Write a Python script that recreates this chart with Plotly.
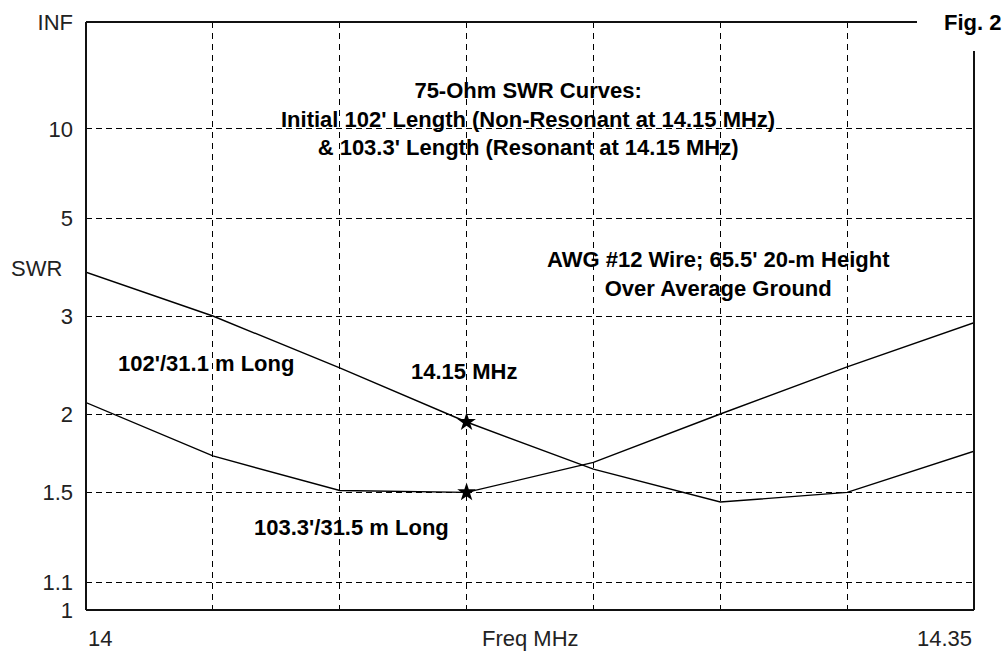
import plotly.graph_objects as go

# ---- data ----
freq_mhz = [14.00, 14.05, 14.10, 14.15, 14.20, 14.25, 14.30, 14.35]
swr_102ft = [3.70, 3.00, 2.40, 1.94, 1.63, 1.45, 1.50, 1.74]
swr_103_3ft = [2.09, 1.71, 1.51, 1.50, 1.67, 2.00, 2.41, 2.91]
marker_freq = 14.15

grid_swr = [1.1, 1.5, 2, 3, 5, 10]
grid_swr_labels = ["1.1", "1.5", "2", "3", "5", "10"]
end_swr_labels = ["1", "INF"]
grid_freq = [14.05, 14.10, 14.15, 14.20, 14.25, 14.30]


def gamma(s):
    # reflection-coefficient scale used by the SWR axis
    return (s - 1.0) / (s + 1.0)


FONT = "Liberation Sans, Arial, sans-serif"
BLACK = "#000000"

fig = go.Figure()

for ys in (swr_102ft, swr_103_3ft):
    fig.add_trace(go.Scatter(
        x=freq_mhz, y=[gamma(v) for v in ys], mode="lines",
        line=dict(color=BLACK, width=1.4), showlegend=False, hoverinfo="skip"))

mi = freq_mhz.index(marker_freq)
fig.add_trace(go.Scatter(
    x=[marker_freq, marker_freq],
    y=[gamma(swr_102ft[mi]), gamma(swr_103_3ft[mi])],
    mode="markers", marker=dict(symbol="star", size=14, color=BLACK),
    showlegend=False, hoverinfo="skip", cliponaxis=False))

# overlay axis only for the end labels "1" and "INF"
fig.add_trace(go.Scatter(x=[None], y=[None], yaxis="y2", showlegend=False,
                         hoverinfo="skip"))

fig.update_layout(
    width=1008, height=651,
    margin=dict(l=86, r=34, t=22, b=41),
    paper_bgcolor="white", plot_bgcolor="white",
    font=dict(family=FONT, size=22, color="#222222"),
    xaxis=dict(range=[14.0, 14.35], tickvals=grid_freq, showticklabels=False,
               showgrid=True, gridcolor=BLACK, gridwidth=1, griddash="6px,5px",
               ticks="inside", ticklen=4, tickcolor=BLACK, automargin=False,
               showline=False, zeroline=False, fixedrange=True),
    yaxis=dict(range=[0, 1], tickvals=[gamma(v) for v in grid_swr],
               ticktext=grid_swr_labels, showgrid=True, gridcolor=BLACK,
               gridwidth=1, griddash="6px,4px", ticks="", automargin=False,
               ticklabelstandoff=12, showline=False, zeroline=False,
               fixedrange=True),
    yaxis2=dict(range=[0, 1], overlaying="y", side="left",
                tickvals=[gamma(1.0), 1.0], ticktext=end_swr_labels,
                showgrid=False, ticks="", ticklabelstandoff=12, automargin=False,
                showline=False, zeroline=False, fixedrange=True),
)

# frame (with a gap at top right for "Fig. 2")
frame = [
    dict(x0=0, x1=0, y0=0, y1=1),
    dict(x0=0, x1=1, y0=0, y1=0),
    dict(x0=0, x1=0.9358, y0=1, y1=1),
    dict(x0=1, x1=1, y0=0, y1=0.9507),
]
for f in frame:
    fig.add_shape(type="line", xref="paper", yref="paper",
                  line=dict(color="#111111", width=2), **f)

bold = dict(family=FONT, size=22, color=BLACK)
ann = [
    dict(text="<b>75-Ohm SWR Curves:<br>Initial 102' Length (Non-Resonant at 14.15 MHz)<br>"
              "&amp; 103.3' Length (Resonant at 14.15 MHz)</b>",
         x=0.4977, y=0.835),
    dict(text="<b>AWG #12 Wire; 65.5' 20-m Height<br>Over Average Ground</b>",
         x=0.7128, y=0.5714),
    dict(text="<b>102'/31.1 m Long</b>", x=0.1346, y=0.420),
    dict(text="<b>14.15 MHz</b>", x=0.4257, y=0.4048),
    dict(text="<b>103.3'/31.5 m Long</b>", x=0.2995, y=0.1395),
]
for a in ann:
    fig.add_annotation(xref="paper", yref="paper", showarrow=False,
                       xanchor="center", yanchor="middle", align="center",
                       font=bold, **a)
fig.add_annotation(text="<b>Fig. 2</b>", xref="paper", yref="paper", x=1.0, y=1.0,
                   xanchor="right", yanchor="middle", xshift=29, showarrow=False,
                   font=bold)

reg = dict(family=FONT, size=22, color="#222222")
fig.add_annotation(text="SWR", xref="paper", yref="paper", x=0, y=(610 - 268) / 588,
                   xanchor="right", yanchor="middle", xshift=-22, showarrow=False, font=reg)
fig.add_annotation(text="14", xref="x", yref="paper", x=freq_mhz[0], y=0,
                   xanchor="left", yanchor="middle", yshift=-28, showarrow=False, font=reg)
fig.add_annotation(text="14.35", xref="x", yref="paper", x=freq_mhz[-1], y=0,
                   xanchor="right", yanchor="middle", yshift=-28, showarrow=False, font=reg)
fig.add_annotation(text="Freq MHz", xref="paper", yref="paper", x=0.5, y=0,
                   xanchor="center", yanchor="middle", yshift=-28, showarrow=False, font=reg)

# remove the browser's default 8px body margin so the 1008x651 figure fills the window
fig.write_html("out.html",
               config={"displayModeBar": False, "staticPlot": True},
               post_script="document.body.style.margin='0';"
                           "document.body.style.overflow='hidden';")
